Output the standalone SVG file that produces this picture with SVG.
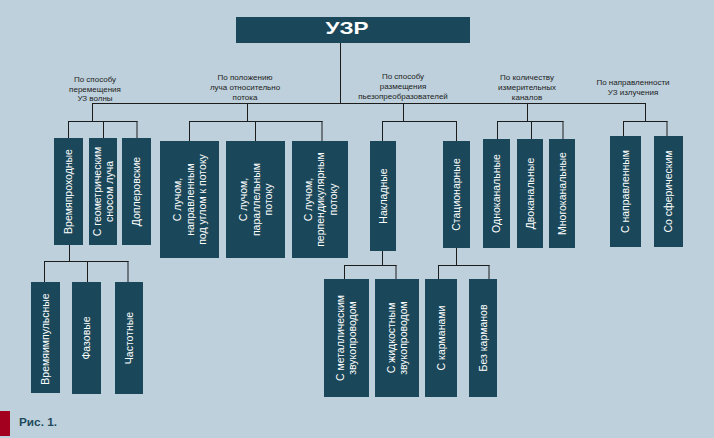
<svg xmlns="http://www.w3.org/2000/svg" width="714" height="438" viewBox="0 0 714 438">
<style>
.bg{fill:#bdd0dc}
.box{fill:#1a4759}
.bt{fill:#ffffff;font-family:"Liberation Sans",Arial,sans-serif;font-size:10.5px;text-anchor:middle}
.cat{fill:#222222;font-family:"Liberation Sans",Arial,sans-serif;font-size:8px;text-anchor:middle}
.ln{stroke:#1c1c1c;stroke-width:1;fill:none}
</style>
<rect class="bg" x="0" y="0" width="714" height="438"/>
<g id="connectors">
<path class="ln" d="M340.5,43V103.5M92,103.5H645.5M92.5,103V121M68.5,121.5H137.5M68.5,121V138M103.5,121V138M137,121V138M247.5,103V121M189.5,121.5H322.5M189.5,121V141M255.5,121V141M322,121V141M403.5,103V121M382.5,121.5H456.5M382.5,121V141M456.5,121V141M527.5,103V121M497.5,121.5H563.5M497.5,121V139M531.5,121V139M563,121V139M645.5,103V121.5M623.5,121.5H667.5M623.5,121V136M667,121V136M69.5,245V261M44.5,261.5H128.5M44.5,261V282M87.5,261V282M128,261V282M382.5,251V265M344.5,265.5H396.5M344.5,265V279M396,265V279M456.5,248V265M438.5,265.5H489.5M438.5,265V279M489,265V279"/>
</g>
<g id="root">
<rect class="box" x="236" y="17" width="234" height="26"/>
<text x="347" y="34" fill="#ffffff" font-family="'Liberation Sans',Arial,sans-serif" font-size="17" font-weight="bold" text-anchor="middle" textLength="43" lengthAdjust="spacingAndGlyphs">УЗР</text>
</g>
<g id="cat1"><text class="cat" x="95" y="82">По способу<tspan x="95" dy="9.7">перемещения</tspan><tspan x="95" dy="9.7">УЗ волны</tspan></text></g>
<g id="cat2"><text class="cat" x="245" y="80">По положению<tspan x="245" dy="10">луча относительно</tspan><tspan x="245" dy="10">потока</tspan></text></g>
<g id="cat3"><text class="cat" x="403" y="79">По способу<tspan x="403" dy="10">размещения</tspan><tspan x="403" dy="10">пьезопреобразователей</tspan></text></g>
<g id="cat4"><text class="cat" x="527" y="80">По количеству<tspan x="527" dy="10">измерительных</tspan><tspan x="527" dy="10">каналов</tspan></text></g>
<g id="cat5"><text class="cat" x="633" y="85">По направленности<tspan x="633" dy="10">УЗ излучения</tspan></text></g>
<g id="n1"><rect class="box" x="54" y="138" width="29" height="107"/><text class="bt" transform="translate(68.5,191.5) rotate(-90)" y="3.7">Времяпроходные</text></g>
<g id="n2"><rect class="box" x="89" y="138" width="28" height="107"/><text class="bt" transform="translate(103,191.5) rotate(-90)" y="-2.3">С геометрическим<tspan x="0" dy="12">сносом луча</tspan></text></g>
<g id="n3"><rect class="box" x="122" y="138" width="29" height="107"/><text class="bt" transform="translate(136.5,191.5) rotate(-90)" y="3.7">Доплеровские</text></g>
<g id="n4"><rect class="box" x="160" y="141" width="59" height="117"/><text class="bt" transform="translate(189.5,199.5) rotate(-90)" y="-8.5">С лучом,<tspan x="0" dy="12.5">направленным</tspan><tspan x="0" dy="12.5">под углом к потоку</tspan></text></g>
<g id="n5"><rect class="box" x="226" y="141" width="59" height="117"/><text class="bt" transform="translate(255.5,199.5) rotate(-90)" y="-8.5">С лучом,<tspan x="0" dy="12.5">параллельным</tspan><tspan x="0" dy="12.5">потоку</tspan></text></g>
<g id="n6"><rect class="box" x="292" y="141" width="56" height="117"/><text class="bt" transform="translate(320,199.5) rotate(-90)" y="-8.5">С лучом,<tspan x="0" dy="12.5">перпендикулярным</tspan><tspan x="0" dy="12.5">потоку</tspan></text></g>
<g id="n7"><rect class="box" x="370" y="141" width="26" height="110"/><text class="bt" transform="translate(383,196) rotate(-90)" y="3.7">Накладные</text></g>
<g id="n8"><rect class="box" x="443" y="141" width="27" height="107"/><text class="bt" transform="translate(456.5,194.5) rotate(-90)" y="3.7">Стационарные</text></g>
<g id="n9"><rect class="box" x="483" y="139" width="27" height="109"/><text class="bt" transform="translate(496.5,193.5) rotate(-90)" y="3.7">Одноканальные</text></g>
<g id="n10"><rect class="box" x="517" y="139" width="26" height="109"/><text class="bt" transform="translate(530,193.5) rotate(-90)" y="3.7">Двоканальные</text></g>
<g id="n11"><rect class="box" x="549" y="139" width="26" height="109"/><text class="bt" transform="translate(562,193.5) rotate(-90)" y="3.7">Многоканальные</text></g>
<g id="n12"><rect class="box" x="610" y="136" width="31" height="111"/><text class="bt" transform="translate(625.5,191.5) rotate(-90)" y="3.7">С направленным</text></g>
<g id="n13"><rect class="box" x="654" y="136" width="29" height="111"/><text class="bt" transform="translate(668.5,191.5) rotate(-90)" y="3.7">Со сферическим</text></g>
<g id="n14"><rect class="box" x="31" y="282" width="29" height="111"/><text class="bt" transform="translate(45.5,339) rotate(-90)" y="3.7">Времяимпульсные</text></g>
<g id="n15"><rect class="box" x="72" y="282" width="29" height="112"/><text class="bt" transform="translate(86.5,338) rotate(-90)" y="3.7">Фазовые</text></g>
<g id="n16"><rect class="box" x="115" y="282" width="28" height="112"/><text class="bt" transform="translate(129,338) rotate(-90)" y="3.7">Частотные</text></g>
<g id="n17"><rect class="box" x="324" y="279" width="45" height="118"/><text class="bt" transform="translate(346.5,338) rotate(-90)" y="-2.3">С металлическим<tspan x="0" dy="12">звукопроводом</tspan></text></g>
<g id="n18"><rect class="box" x="375" y="279" width="44" height="118"/><text class="bt" transform="translate(397,338) rotate(-90)" y="-2.3">С жидкостным<tspan x="0" dy="12">звукопроводом</tspan></text></g>
<g id="n19"><rect class="box" x="425" y="279" width="32" height="118"/><text class="bt" transform="translate(441,338) rotate(-90)" y="3.7">С карманами</text></g>
<g id="n20"><rect class="box" x="469" y="279" width="28" height="118"/><text class="bt" transform="translate(483,338) rotate(-90)" y="3.7">Без карманов</text></g>
<g id="caption">
<rect x="0" y="411" width="10" height="25" fill="#a3001f"/>
<text x="19" y="426" fill="#1d4a5c" font-family="'Liberation Sans Narrow','Liberation Sans',Arial,sans-serif" font-size="11" font-weight="bold" textLength="38" lengthAdjust="spacingAndGlyphs">Рис. 1.</text>
</g>
</svg>
